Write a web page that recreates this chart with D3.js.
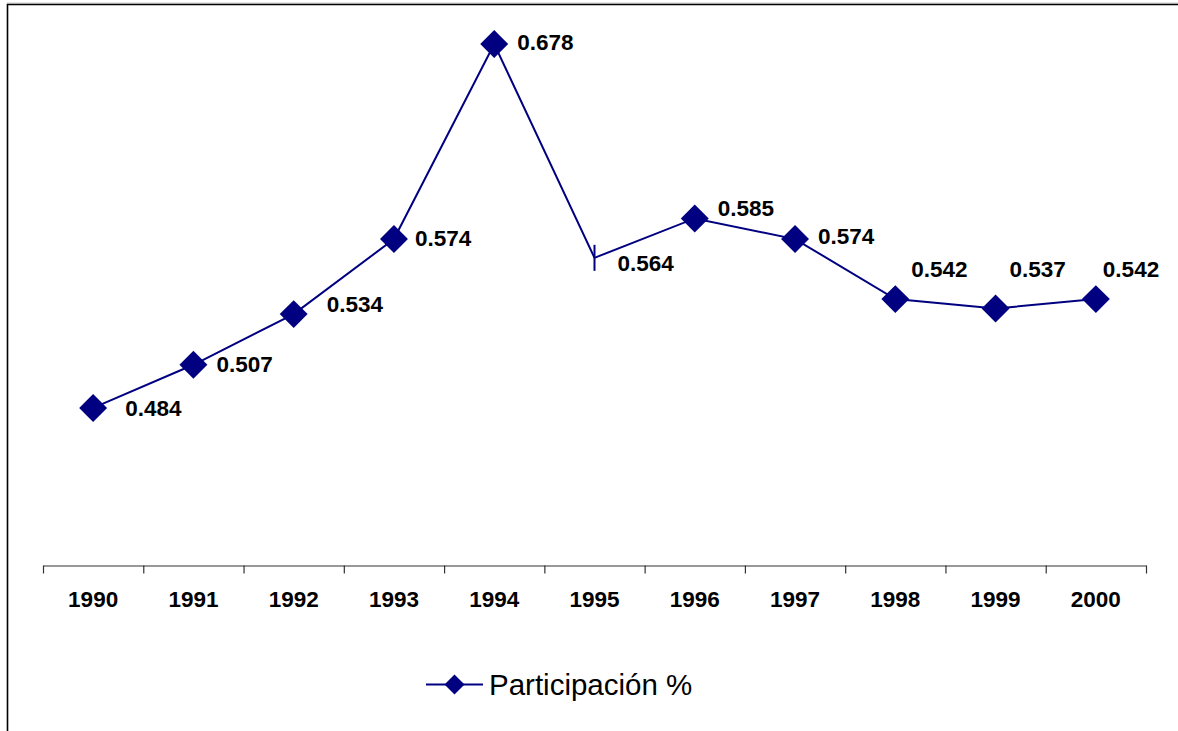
<!DOCTYPE html>
<html>
<head>
<meta charset="utf-8">
<script src="https://cdn.jsdelivr.net/npm/d3@7"></script>
<style>
  html, body { margin: 0; padding: 0; background: #fff; }
  svg { display: block; font-family: "Liberation Sans", Arial, sans-serif; }
</style>
</head>
<body>
<div id="chart"></div>
<script>
// chart data
const years = ["1990", "1991", "1992", "1993", "1994", "1995", "1996", "1997", "1998", "1999", "2000"];
const participacion = [0.484, 0.507, 0.534, 0.574, 0.678, 0.564, 0.585, 0.574, 0.542, 0.537, 0.542];
const markerKind = ["diamond", "diamond", "diamond", "diamond", "diamond", "dash", "diamond", "diamond", "diamond", "diamond", "diamond"];
const seriesName = "Participación %";

// where each value label sits relative to its point (layout, px)
const labelDx = [32, 23, 33, 21, 23, 23, 23, 23, 16, 14, 7];
const labelDy = [8, 7, -2, 7, 6, 13, -2, 5, -22, -31, -22];

const width = 1178,
  height = 731,
  navy = "#000080";

const svg = d3.select("#chart")
  .append("svg")
  .attr("width", width)
  .attr("height", height);

// frame (only top and left edges show in the picture)
svg.append("line")
  .attr("x1", 7).attr("x2", width).attr("y1", 3).attr("y2", 3)
  .attr("stroke", "#c8c8c8").attr("stroke-width", 1);
svg.append("path")
  .attr("d", `M7.5,${height}V4.5H${width}`)
  .attr("fill", "none")
  .attr("stroke", "#000")
  .attr("stroke-width", 1.6);

// scales
const xBand = d3.scaleBand()
  .domain(years)
  .range([43, 1146]);

const xEdge = d3.scaleLinear()
  .domain([0, years.length])
  .range([43, 1146]);

const yScale = d3.scaleLinear()
  .domain([0.4, 0.7])
  .range([565.5, 2.7]);

const cx = d => xBand(d) + xBand.bandwidth() / 2;

// category axis: ticks between categories
const tickAxis = svg.append("g")
  .attr("transform", "translate(0,565.5)")
  .call(d3.axisBottom(xEdge)
    .tickValues(d3.range(years.length + 1))
    .tickSize(8)
    .tickSizeOuter(0)
    .tickFormat(""));
tickAxis.selectAll("path, line").attr("stroke", "#333").attr("stroke-width", 1.2);

const labelAxis = svg.append("g")
  .attr("transform", "translate(0,565.5)")
  .call(d3.axisBottom(xBand).tickSize(0).tickPadding(26));
labelAxis.select(".domain").remove();
labelAxis.selectAll("text")
  .attr("font-family", "'Liberation Sans', Arial, sans-serif")
  .attr("font-size", 22.5)
  .attr("font-weight", "bold")
  .attr("fill", "#000");

// series line
const points = years.map((y, i) => ({ year: y, value: participacion[i], kind: markerKind[i], i }));

svg.append("path")
  .datum(points)
  .attr("fill", "none")
  .attr("stroke", navy)
  .attr("stroke-width", 2)
  .attr("d", d3.line().x(d => cx(d.year)).y(d => yScale(d.value)));

const diamond = d3.symbol().type(d3.symbolSquare).size(390);

svg.selectAll(".dot")
  .data(points.filter(d => d.kind === "diamond"))
  .join("path")
  .attr("class", "dot")
  .attr("d", diamond)
  .attr("transform", d => `translate(${cx(d.year)},${yScale(d.value)}) rotate(45)`)
  .attr("fill", navy);

svg.selectAll(".dash")
  .data(points.filter(d => d.kind === "dash"))
  .join("line")
  .attr("class", "dash")
  .attr("x1", d => cx(d.year)).attr("x2", d => cx(d.year))
  .attr("y1", d => yScale(d.value) - 13).attr("y2", d => yScale(d.value) + 13)
  .attr("stroke", navy)
  .attr("stroke-width", 2);

// value labels
svg.selectAll(".val")
  .data(points)
  .join("text")
  .attr("class", "val")
  .attr("x", d => cx(d.year) + labelDx[d.i])
  .attr("y", d => yScale(d.value) + labelDy[d.i])
  .attr("font-size", 22.5)
  .attr("font-weight", "bold")
  .attr("fill", "#000")
  .text(d => d3.format(".3f")(d.value));

// legend
const legend = svg.append("g").attr("transform", "translate(426,684.5)");
legend.append("line")
  .attr("x1", 0).attr("x2", 57)
  .attr("stroke", navy).attr("stroke-width", 2);
legend.append("path")
  .attr("d", d3.symbol().type(d3.symbolSquare).size(200))
  .attr("transform", "translate(28.5,0) rotate(45)")
  .attr("fill", navy);
legend.append("text")
  .attr("x", 63)
  .attr("y", 10)
  .attr("font-size", 29.5)
  .attr("fill", "#000")
  .text(seriesName);
</script>
</body>
</html>
